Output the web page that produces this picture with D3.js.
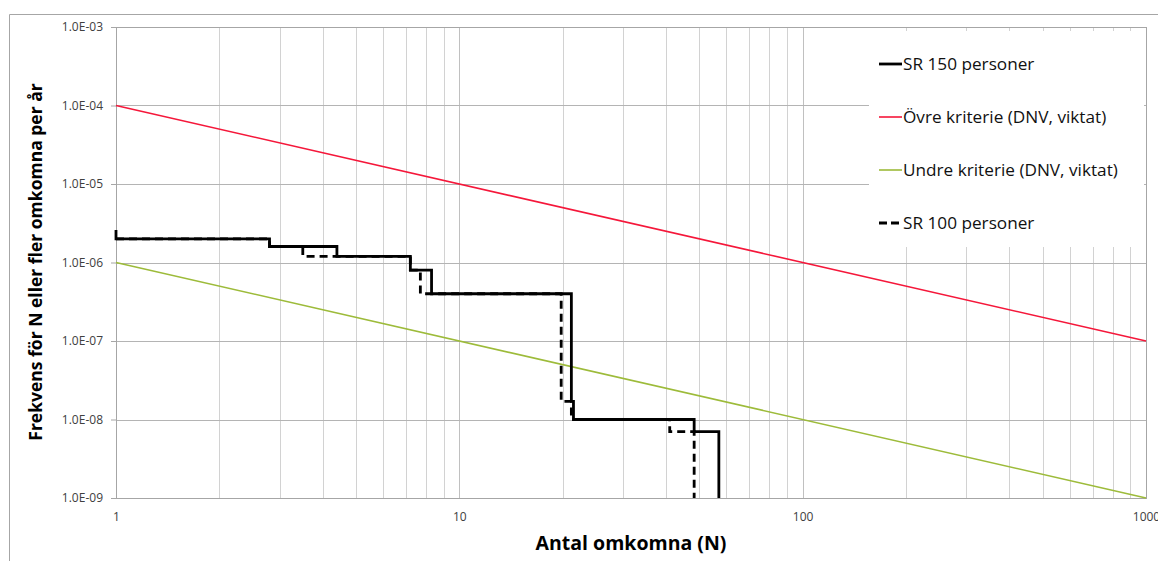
<!DOCTYPE html>
<html>
<head>
<meta charset="utf-8">
<script src="https://cdn.jsdelivr.net/npm/d3@7"></script>
<style>
  body {margin: 0; background: #fff;}
  svg {display: block; font-family: 'Open Sans', sans-serif;}
</style>
</head>
<body>
<div class="chart"></div>
<script>
// SR 150 personer (step, F applies from N until next N)
var sr150N = [1, 1, 2.8, 4.4, 7.2, 8.3, 21.2, 21.5, 48.3, 57]
var sr150F = [2.6e-6, 2.0e-6, 1.6e-6, 1.2e-6, 8e-7, 4e-7, 1.7e-8, 1.0e-8, 7e-9, 1e-9]

// SR 100 personer
var sr100N = [1, 2.8, 3.5, 7.2, 7.7, 19.8, 21.2, 41, 48.3]
var sr100F = [2.0e-6, 1.6e-6, 1.2e-6, 8e-7, 4e-7, 1.7e-8, 1.0e-8, 7e-9, 1e-9]

// criteria lines
var critN = [1, 1000]
var upperF = [1e-4, 1e-7]
var lowerF = [1e-6, 1e-9]

var yTicks = [1e-3, 1e-4, 1e-5, 1e-6, 1e-7, 1e-8, 1e-9]
var yTickLabels = ['1.0E-03', '1.0E-04', '1.0E-05', '1.0E-06', '1.0E-07', '1.0E-08', '1.0E-09']
var xTicks = [1, 10, 100, 1000]
var xTickLabels = ['1', '10', '100', '1000']

var legendNames = ['SR 150 personer', 'Övre kriterie (DNV, viktat)', 'Undre kriterie (DNV, viktat)', 'SR 100 personer']

var W = 1158, H = 561
var margin = {left: 116, top: 27, right: 12, bottom: 63}
var width = W - margin.left - margin.right
var height = H - margin.top - margin.bottom

var svg = d3.select('.chart').append('svg').attr('width', W).attr('height', H)

// outer frame
svg.append('path')
  .attr('d', 'M 9.5 ' + H + ' V 14.5 H ' + W)
  .attr('fill', 'none').attr('stroke', '#a6a6a6')

var g = svg.append('g').attr('transform', 'translate(' + margin.left + ',' + margin.top + ')')

var x = d3.scaleLog().domain([1, 1000]).range([0, width])
var y = d3.scaleLog().domain([1e-9, 1e-3]).range([height, 0])

// vertical grid: every 1..9 x decade
var minor = []
;[1, 10, 100].forEach(dec => d3.range(1, 10).forEach(k => minor.push(dec * k)))
minor.push(1000)
g.selectAll('line.vgrid').data(minor).join('line')
  .attr('class', 'vgrid')
  .attr('x1', d => Math.round(x(d)) + .5).attr('x2', d => Math.round(x(d)) + .5)
  .attr('y1', 0).attr('y2', height)
  .attr('stroke', d => xTicks.includes(d) ? '#c0c0c0' : '#d2d2d2')

// horizontal grid
g.selectAll('line.hgrid').data(yTicks).join('line')
  .attr('class', 'hgrid')
  .attr('x1', 0).attr('x2', width)
  .attr('y1', d => Math.round(y(d)) + .5).attr('y2', d => Math.round(y(d)) + .5)
  .attr('stroke', '#b4b4b4')

// axes
var yAxis = g.append('g')
  .call(d3.axisLeft(y).tickValues(yTicks).tickFormat((d, i) => yTickLabels[i]).tickSize(5))
var xAxis = g.append('g').attr('transform', 'translate(0,' + height + ')')
  .call(d3.axisBottom(x).tickValues(xTicks).tickFormat((d, i) => xTickLabels[i]).tickSize(0))
;[yAxis, xAxis].forEach(a => {
  a.select('.domain').remove()
  a.selectAll('line').attr('stroke', '#a6a6a6')
  a.selectAll('text').attr('fill', '#404040').attr('font-size', 12)
    .attr('font-family', "'Open Sans', sans-serif")
})
yAxis.selectAll('text').attr('x', -13)
xAxis.selectAll('text').attr('dy', '1.65em')

g.append('rect').attr('x', .5).attr('y', .5).attr('width', width).attr('height', height)
  .attr('fill', 'none').attr('stroke', '#a6a6a6')

var line = d3.line().x(d => x(d[0])).y(d => y(d[1]))
var stepLine = d3.line().x(d => x(d[0])).y(d => y(d[1])).curve(d3.curveStepAfter)

g.append('path').datum(d3.zip(critN, upperF)).attr('d', line)
  .attr('fill', 'none').attr('stroke', '#f5173a').attr('stroke-width', 1.6)
g.append('path').datum(d3.zip(critN, lowerF)).attr('d', line)
  .attr('fill', 'none').attr('stroke', '#9dbb3a').attr('stroke-width', 1.6)

g.append('path').datum(d3.zip(sr100N, sr100F)).attr('d', stepLine)
  .attr('fill', 'none').attr('stroke', '#000').attr('stroke-width', 2.8)
  .attr('stroke-dasharray', '8,5')
g.append('path').datum(d3.zip(sr150N, sr150F)).attr('d', stepLine)
  .attr('fill', 'none').attr('stroke', '#000').attr('stroke-width', 2.8)

// legend
var leg = svg.append('g')
leg.append('rect').attr('x', 869).attr('y', 31).attr('width', 275).attr('height', 216).attr('fill', '#fff')
var legStyles = [
  {stroke: '#000', dash: null, w: 2.8},
  {stroke: '#f5173a', dash: null, w: 1.6},
  {stroke: '#9dbb3a', dash: null, w: 1.6},
  {stroke: '#000', dash: '8,4', w: 2.8}
]
var legRows = leg.selectAll('g.row').data(legendNames).join('g')
  .attr('transform', (d, i) => 'translate(879,' + (64 + i * 53) + ')')
legRows.append('line').attr('x1', 0).attr('x2', 23)
  .attr('stroke', (d, i) => legStyles[i].stroke)
  .attr('stroke-width', (d, i) => legStyles[i].w)
  .attr('stroke-dasharray', (d, i) => legStyles[i].dash)
legRows.append('text').attr('x', 24).attr('dy', '0.35em')
  .attr('font-size', 17.2).attr('fill', '#111').text(d => d)

// axis titles
svg.append('text')
  .attr('transform', 'translate(42,' + 262 + ') rotate(-90)')
  .attr('text-anchor', 'middle').attr('font-weight', 'bold').attr('font-size', 17.5)
  .text('Frekvens för N eller fler omkomna per år')
svg.append('text')
  .attr('x', 631).attr('y', 550)
  .attr('text-anchor', 'middle').attr('font-weight', 'bold').attr('font-size', 19.5)
  .text('Antal omkomna (N)')
</script>
</body>
</html>
